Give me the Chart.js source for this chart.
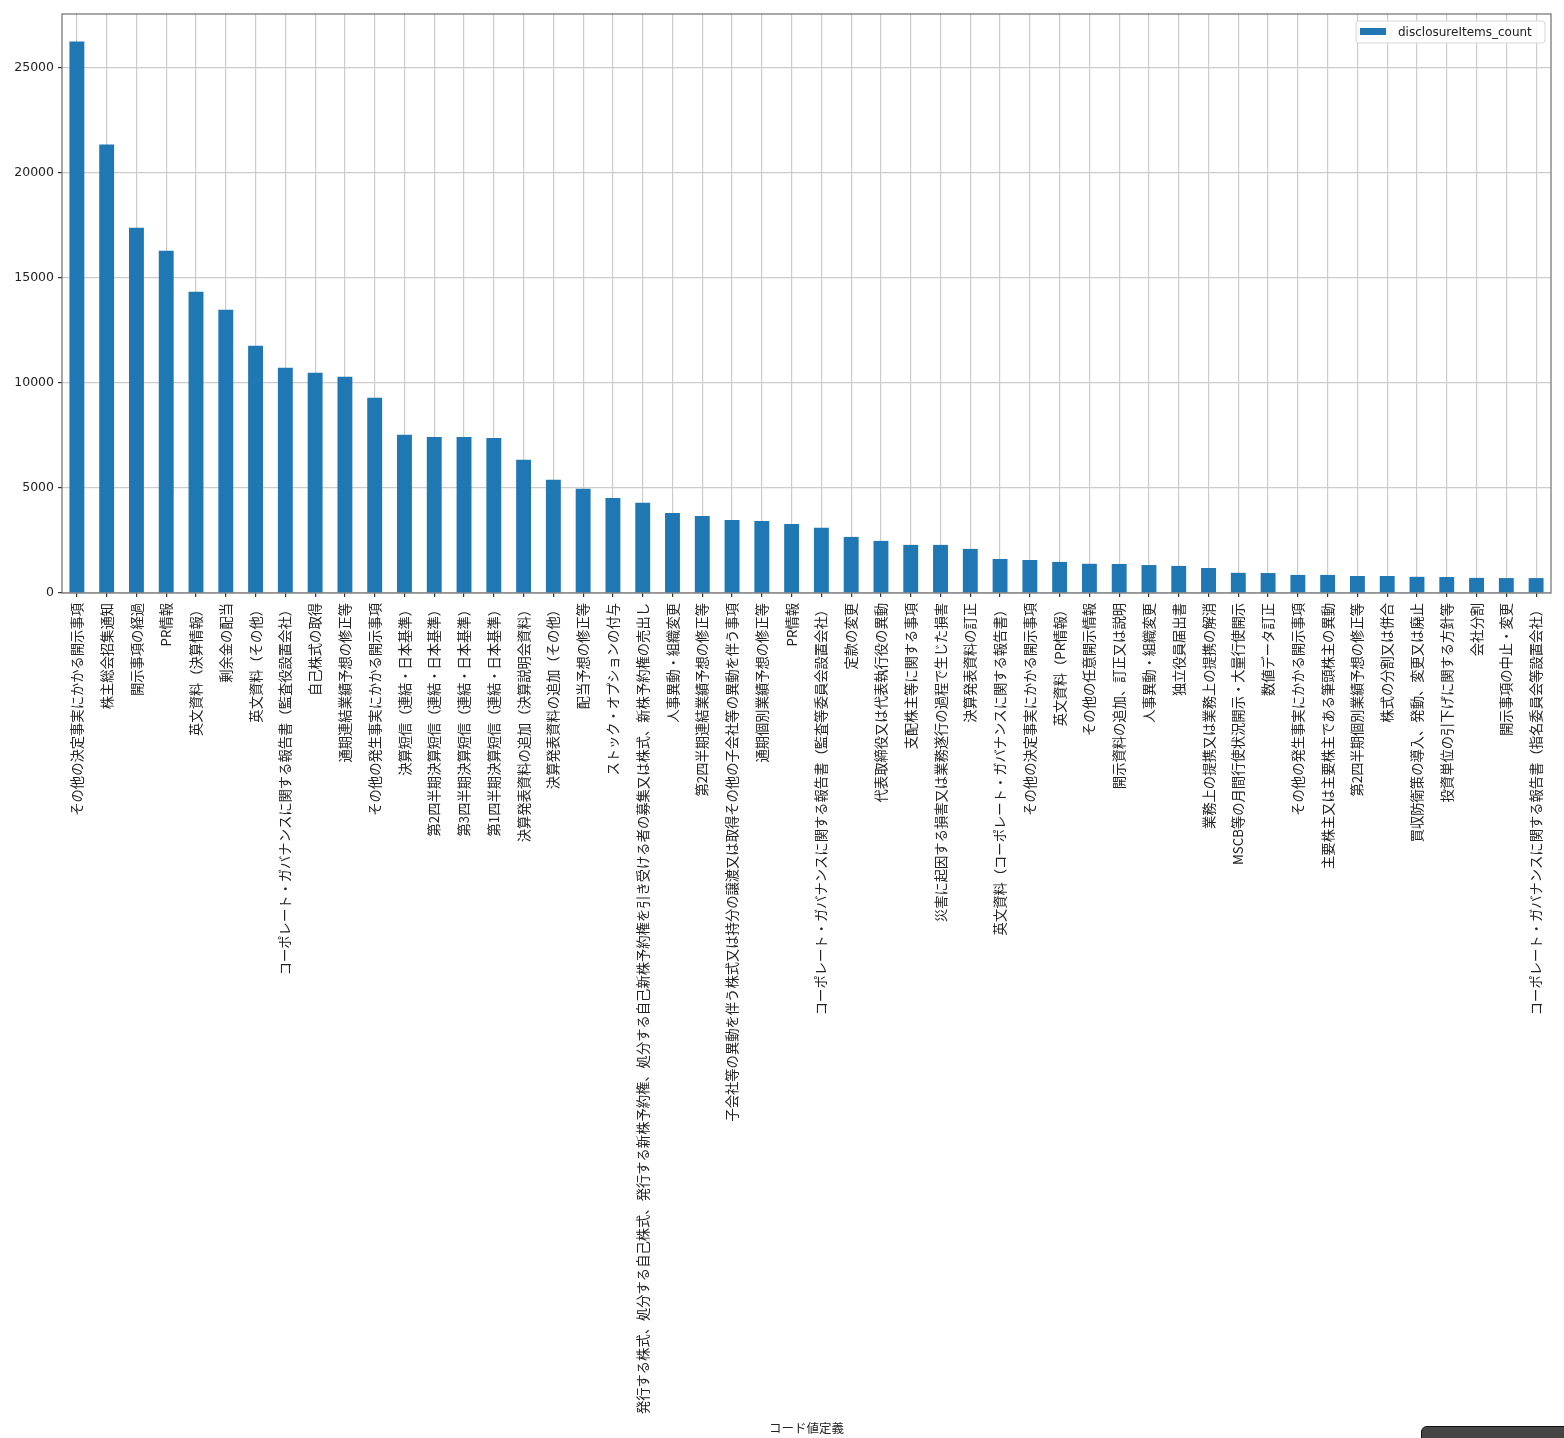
<!DOCTYPE html>
<html>
<head>
<meta charset="utf-8">
<script src="https://cdn.jsdelivr.net/npm/chart.js@4"></script>
<style>
  html, body { margin: 0; padding: 0; background: #fff; overflow: hidden; }
  #wrap { position: relative; width: 1564px; height: 1438px; }
  #corner {
    position: absolute; left: 1421px; top: 1426px; width: 150px; height: 20px;
    background: #454545; border: 1px solid #111; border-radius: 6px 0 0 0;
  }
</style>
</head>
<body>
<div id="wrap">
  <canvas id="chart" width="1564" height="1438"></canvas>
  <div id="corner"></div>
</div>
<script>
const codeLabels = [
  'その他の決定事実にかかる開示事項',
  '株主総会招集通知',
  '開示事項の経過',
  'PR情報',
  '英文資料（決算情報）',
  '剰余金の配当',
  '英文資料（その他）',
  'コーポレート・ガバナンスに関する報告書（監査役設置会社）',
  '自己株式の取得',
  '通期連結業績予想の修正等',
  'その他の発生事実にかかる開示事項',
  '決算短信（連結・日本基準）',
  '第2四半期決算短信（連結・日本基準）',
  '第3四半期決算短信（連結・日本基準）',
  '第1四半期決算短信（連結・日本基準）',
  '決算発表資料の追加（決算説明会資料）',
  '決算発表資料の追加（その他）',
  '配当予想の修正等',
  'ストック・オプションの付与',
  '発行する株式、処分する自己株式、発行する新株予約権、処分する自己新株予約権を引き受ける者の募集又は株式、新株予約権の売出し',
  '人事異動・組織変更',
  '第2四半期連結業績予想の修正等',
  '子会社等の異動を伴う株式又は持分の譲渡又は取得その他の子会社等の異動を伴う事項',
  '通期個別業績予想の修正等',
  'PR情報',
  'コーポレート・ガバナンスに関する報告書（監査等委員会設置会社）',
  '定款の変更',
  '代表取締役又は代表執行役の異動',
  '支配株主等に関する事項',
  '災害に起因する損害又は業務遂行の過程で生じた損害',
  '決算発表資料の訂正',
  '英文資料（コーポレート・ガバナンスに関する報告書）',
  'その他の決定事実にかかる開示事項',
  '英文資料（PR情報）',
  'その他の任意開示情報',
  '開示資料の追加、訂正又は説明',
  '人事異動・組織変更',
  '独立役員届出書',
  '業務上の提携又は業務上の提携の解消',
  'MSCB等の月間行使状況開示・大量行使開示',
  '数値データ訂正',
  'その他の発生事実にかかる開示事項',
  '主要株主又は主要株主である筆頭株主の異動',
  '第2四半期個別業績予想の修正等',
  '株式の分割又は併合',
  '買収防衛策の導入、発動、変更又は廃止',
  '投資単位の引下げに関する方針等',
  '会社分割',
  '開示事項の中止・変更',
  'コーポレート・ガバナンスに関する報告書（指名委員会等設置会社）'
];

const itemCounts = [
  26250, 21350, 17380, 16290, 14340, 13480, 11770, 10720, 10480, 10290,
  9290, 7530, 7430, 7430, 7380, 6340, 5390, 4960, 4520, 4290,
  3810, 3670, 3480, 3430, 3290, 3100, 2670, 2480, 2290, 2290,
  2100, 1620, 1570, 1480, 1390, 1380, 1330, 1290, 1190, 960,
  950, 860, 860, 810, 810, 770, 760, 720, 710, 710
];

const yTicks = [0, 5000, 10000, 15000, 20000, 25000];

const gridColor = '#cccccc';
const latinFont = "'DejaVu Sans', sans-serif";
const jpFont = "'Noto Sans CJK JP', 'DejaVu Sans', sans-serif";

// 枠線と凡例（右上、プロット内）
const framePlugin = {
  id: 'frame',
  afterDraw(chart) {
    const { ctx, chartArea: a } = chart;
    ctx.save();
    ctx.strokeStyle = '#6e6e6e';
    ctx.lineWidth = 1.2;
    ctx.strokeRect(a.left, a.top, a.right - a.left, a.bottom - a.top);

    const ds = chart.data.datasets[0];
    const x = a.right - 195, y = a.top + 7, w = 189, h = 22;
    ctx.fillStyle = 'rgba(255,255,255,0.85)';
    ctx.strokeStyle = '#d8d8d8';
    ctx.lineWidth = 1;
    ctx.beginPath();
    ctx.roundRect(x, y, w, h, 3);
    ctx.fill();
    ctx.stroke();
    ctx.fillStyle = ds.backgroundColor;
    ctx.fillRect(x + 4, y + 7, 26, 7);
    ctx.fillStyle = '#222';
    ctx.font = '12px ' + latinFont;
    ctx.textBaseline = 'middle';
    ctx.fillText(ds.label, x + 42, y + h / 2 + 1);
    ctx.restore();
  }
};

new Chart(document.getElementById('chart'), {
  type: 'bar',
  data: {
    labels: codeLabels,
    datasets: [{
      label: 'disclosureItems_count',
      data: itemCounts,
      backgroundColor: '#1f77b4',
      borderWidth: 0,
      barPercentage: 0.5,
      categoryPercentage: 1.0
    }]
  },
  options: {
    responsive: false,
    devicePixelRatio: 1,
    animation: false,
    layout: { padding: { top: 14, right: 13, left: 0, bottom: 0 } },
    plugins: {
      tooltip: { enabled: false },
      legend: { display: false }
    },
    scales: {
      x: {
        z: 1,
        grid: {
          offset: false,
          color: gridColor,
          lineWidth: 1.2,
          drawTicks: true,
          tickLength: 4,
          tickColor: '#333'
        },
        border: { display: false },
        ticks: {
          autoSkip: false,
          maxRotation: 90,
          minRotation: 90,
          padding: 6,
          color: '#222',
          font: { family: jpFont, size: 13.3 }
        },
        title: {
          display: true,
          text: 'コード値定義',
          color: '#222',
          font: { family: jpFont, size: 12.5 },
          padding: { top: 0, bottom: 2 }
        },
        afterFit(scale) { scale.height = 845; }
      },
      y: {
        z: 1,
        min: 0,
        max: 27560,
        grid: {
          color: gridColor,
          lineWidth: 1.2,
          tickLength: 4,
          tickColor: '#333'
        },
        border: { display: false },
        ticks: {
          stepSize: 5000,
          padding: 4,
          color: '#222',
          font: { family: latinFont, size: 12.5 },
          callback: v => String(v)
        },
        afterBuildTicks(scale) {
          scale.ticks = yTicks.map(v => ({ value: v }));
        },
        afterFit(scale) { scale.width = 62; }
      }
    }
  },
  plugins: [framePlugin]
});
</script>
</body>
</html>
